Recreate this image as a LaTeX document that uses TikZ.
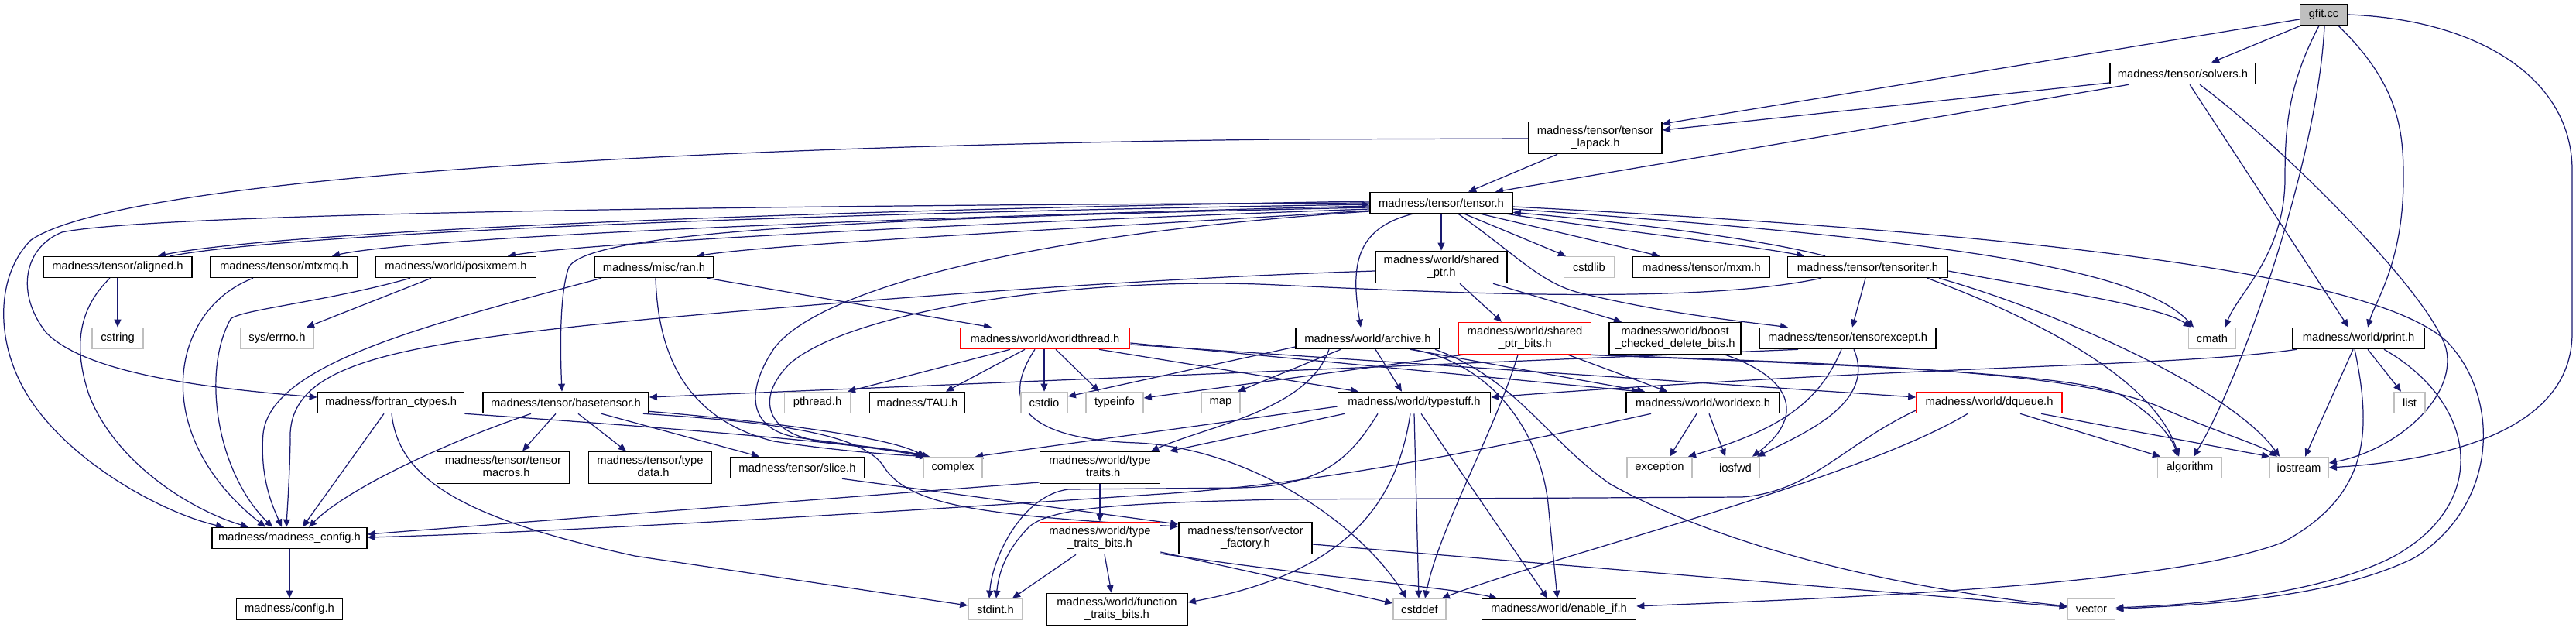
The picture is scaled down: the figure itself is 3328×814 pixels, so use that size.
\documentclass[tikz,border=0pt]{standalone}
\usepackage{fontspec}
\setmainfont{Liberation Sans}
\usetikzlibrary{arrows.meta}
\pgfdeclarelayer{bg}
\pgfdeclarelayer{paper}
\pgfsetlayers{paper,bg,main}
\definecolor{edgec}{HTML}{191970}
\definecolor{grayc}{HTML}{BFBFBF}
\tikzset{
  nbox/.style={draw=black, fill=white, line width=0.45pt, inner sep=0pt, minimum height=0.27cm, font=\fontsize{4.2pt}{4.55pt}\selectfont, align=center},
  gbox/.style={nbox, draw=grayc},
  rbox/.style={nbox, draw=red},
  tall/.style={minimum height=0.41cm},
  lnk/.style={draw=edgec, line width=0.35pt, -{Triangle[length=2.85pt,width=2.5pt]}}
}
\begin{document}
\begin{tikzpicture}[x=0.01cm,y=-0.01cm]
\begin{pgfonlayer}{paper}
\fill[white] (0,0) rectangle (3328,814);
\end{pgfonlayer}
\useasboundingbox (0,0) rectangle (3328,814);
% nodes
\node[nbox,fill=grayc,minimum width=0.61cm] (gfit) at (3002,19) {gfit.cc};
\node[nbox,minimum width=1.88cm] (solvers) at (2820,95) {madness/tensor/solvers.h};
\node[nbox,tall,minimum width=1.72cm] (lapack) at (2061,178) {madness/tensor/tensor\\\_lapack.h};
\node[nbox,minimum width=1.84cm] (tensor) at (1862,262) {madness/tensor/tensor.h};
\node[nbox,minimum width=1.92cm] (aligned) at (152,345) {madness/tensor/aligned.h};
\node[nbox,minimum width=1.90cm] (mtxmq) at (367,345) {madness/tensor/mtxmq.h};
\node[nbox,minimum width=2.07cm] (posixmem) at (589,345) {madness/world/posixmem.h};
\node[nbox,minimum width=1.53cm] (ran) at (845,345) {madness/misc/ran.h};
\node[nbox,tall,minimum width=1.70cm] (sharedptr) at (1862,345) {madness/world/shared\\\_ptr.h};
\node[gbox,minimum width=0.65cm] (cstdlib) at (2053,345) {cstdlib};
\node[nbox,minimum width=1.77cm] (mxm) at (2198,345) {madness/tensor/mxm.h};
\node[nbox,minimum width=2.07cm] (tensoriter) at (2413,345) {madness/tensor/tensoriter.h};
\node[gbox,minimum width=0.66cm] (cstring) at (152,437) {cstring};
\node[gbox,minimum width=0.95cm] (errno) at (358,437) {sys/errno.h};
\node[rbox,minimum width=2.19cm] (worldthread) at (1350,437) {madness/world/worldthread.h};
\node[nbox,minimum width=1.86cm] (archive) at (1767,437) {madness/world/archive.h};
\node[rbox,tall,minimum width=1.71cm] (spbits) at (1970,437) {madness/world/shared\\\_ptr\_bits.h};
\node[nbox,tall,minimum width=1.70cm] (boost) at (2164,437) {madness/world/boost\\\_checked\_delete\_bits.h};
\node[nbox,minimum width=2.28cm] (tensorexcept) at (2387,437) {madness/tensor/tensorexcept.h};
\node[gbox,minimum width=0.61cm] (cmath) at (2858,437) {cmath};
\node[nbox,minimum width=1.71cm] (print) at (3047,437) {madness/world/print.h};
\node[nbox,minimum width=1.89cm] (fortran) at (505,520) {madness/fortran\_ctypes.h};
\node[nbox,minimum width=2.14cm] (basetensor) at (731,520) {madness/tensor/basetensor.h};
\node[gbox,minimum width=0.85cm] (pthread) at (1056,520) {pthread.h};
\node[nbox,minimum width=1.23cm] (tau) at (1185,520) {madness/TAU.h};
\node[gbox,minimum width=0.60cm] (cstdio) at (1349,520) {cstdio};
\node[gbox,minimum width=0.74cm] (typeinfo) at (1440,520) {typeinfo};
\node[gbox,minimum width=0.50cm] (map) at (1577,520) {map};
\node[nbox,minimum width=1.97cm] (typestuff) at (1827,520) {madness/world/typestuff.h};
\node[nbox,minimum width=1.98cm] (worldexc) at (2200,520) {madness/world/worldexc.h};
\node[rbox,minimum width=1.88cm] (dqueue) at (2570,520) {madness/world/dqueue.h};
\node[gbox,minimum width=0.40cm] (list) at (3113,520) {list};
\node[nbox,tall,minimum width=1.71cm] (macros) at (650,604) {madness/tensor/tensor\\\_macros.h};
\node[nbox,tall,minimum width=1.59cm] (typedata) at (840,604) {madness/tensor/type\\\_data.h};
\node[nbox,minimum width=1.73cm] (slice) at (1030,604) {madness/tensor/slice.h};
\node[gbox,minimum width=0.76cm] (complex) at (1231,604) {complex};
\node[nbox,tall,minimum width=1.55cm] (typetraits) at (1421,604) {madness/world/type\\\_traits.h};
\node[gbox,minimum width=0.84cm] (exception) at (2144,604) {exception};
\node[gbox,minimum width=0.63cm] (iosfwd) at (2242,604) {iosfwd};
\node[gbox,minimum width=0.83cm] (algorithm) at (2829,604) {algorithm};
\node[gbox,minimum width=0.76cm] (iostream) at (2970,604) {iostream};
\node[nbox,minimum width=2.00cm] (mconfig) at (374,695) {madness/madness\_config.h};
\node[rbox,tall,minimum width=1.55cm] (ttbits) at (1421,695) {madness/world/type\\\_traits\_bits.h};
\node[nbox,tall,minimum width=1.72cm] (vfactory) at (1609,695) {madness/tensor/vector\\\_factory.h};
\node[nbox,minimum width=1.37cm] (config) at (374,787) {madness/config.h};
\node[gbox,minimum width=0.70cm] (stdint) at (1286,787) {stdint.h};
\node[nbox,tall,minimum width=1.82cm] (ftbits) at (1443,787) {madness/world/function\\\_traits\_bits.h};
\node[gbox,minimum width=0.68cm] (cstddef) at (1834,787) {cstddef};
\node[nbox,minimum width=1.99cm] (enableif) at (2014,787) {madness/world/enable\_if.h};
\node[gbox,minimum width=0.61cm] (vector) at (2702,787) {vector};
% edges
\begin{pgfonlayer}{bg}
% gfit
\draw[lnk] ([shift={(-30,0)}]gfit.south) -- ([shift={(37,0)}]solvers.north);
\draw[lnk] ([shift={(0,6)}]gfit.west) -- ([shift={(0,-18)}]lapack.east);
\draw[lnk] ([shift={(-6,0)}]gfit.south) .. controls (2955,110) and (2952,170) .. (2952,230) .. controls (2952,330) and (2890,380) .. ([shift={(17,0)}]cmath.north);
\draw[lnk] ([shift={(1,0)}]gfit.south) .. controls (2995,200) and (2900,480) .. ([shift={(5,0)}]algorithm.north);
\draw[lnk] ([shift={(19,0)}]gfit.south) .. controls (3100,110) and (3105,170) .. (3105,230) .. controls (3105,340) and (3068,390) .. ([shift={(12,0)}]print.north);
\draw[lnk] (gfit.east) .. controls (3200,25) and (3323,100) .. (3323,220) -- (3323,430) .. controls (3323,560) and (3150,595) .. (iostream.east);
% solvers
\draw[lnk] ([shift={(0,12)}]solvers.west) -- ([shift={(0,-10)}]lapack.east);
\draw[lnk] ([shift={(-70,0)}]solvers.south) -- ([shift={(70,0)}]tensor.north);
\draw[lnk] ([shift={(9,0)}]solvers.south) -- ([shift={(-13,0)}]print.north);
\draw[lnk] ([shift={(22,0)}]solvers.south) .. controls (2950,190) and (3140,380) .. (3160,450) .. controls (3175,510) and (3100,580) .. ([shift={(0,-6)}]iostream.east);
% lapack
\draw[lnk] ([shift={(-49,0)}]lapack.south) -- ([shift={(35,0)}]tensor.north);
\draw[lnk] ([shift={(0,1)}]lapack.west) -- (1650,180) .. controls (800,190) and (150,235) .. (40,310) .. controls (0,350) and (-5,420) .. (20,480) .. controls (60,580) and (200,660) .. ([shift={(-85,0)}]mconfig.north);
% tensor
\draw[lnk] ([shift={(0,-2)}]tensor.west) .. controls (1000,272) and (350,300) .. ([shift={(52,0)}]aligned.north);
\draw[lnk] ([shift={(68,0)}]aligned.north) .. controls (370,302) and (1000,276) .. ([shift={(0,2)}]tensor.west);
\draw[lnk] ([shift={(0,4)}]tensor.west) .. controls (1000,285) and (520,310) .. ([shift={(62,0)}]mtxmq.north);
\draw[lnk] ([shift={(0,8)}]tensor.west) .. controls (1200,290) and (750,315) .. ([shift={(67,0)}]posixmem.north);
\draw[lnk] ([shift={(0,10)}]tensor.west) .. controls (1400,295) and (1000,315) .. ([shift={(55,0)}]ran.north);
\draw[lnk] ([shift={(0,6)}]tensor.west) .. controls (1100,282) and (760,300) .. (735,345) .. controls (722,380) and (724,460) .. ([shift={(-5,0)}]basetensor.north);
\draw[lnk] (tensor.west) .. controls (1000,265) and (200,275) .. (80,300) .. controls (30,320) and (20,380) .. (60,430) .. controls (110,480) and (250,500) .. ([shift={(0,-7)}]fortran.west);
\draw[lnk] ([shift={(-37,0)}]tensor.south) .. controls (1750,295) and (1745,345) .. ([shift={(-9,0)}]archive.north);
\draw[lnk] (tensor.south) -- (sharedptr.north);
\draw[lnk] ([shift={(30,0)}]tensor.south) -- ([shift={(-30,0)}]cstdlib.north);
\draw[lnk] ([shift={(51,0)}]tensor.south) -- ([shift={(-54,0)}]mxm.north);
\draw[lnk] ([shift={(-8,0)}]tensor.south east) .. controls (2100,300) and (2250,315) .. ([shift={(-82,0)}]tensoriter.north);
\draw[lnk] ([shift={(-55,0)}]tensoriter.north) .. controls (2270,308) and (2110,288) .. ([shift={(0,-2)}]tensor.south east);
\draw[lnk] ([shift={(0,5)}]tensor.east) .. controls (2600,300) and (3060,350) .. (3160,440) .. controls (3230,510) and (3230,650) .. (3120,720) .. controls (3000,780) and (2800,782) .. (vector.east);
\draw[lnk] ([shift={(0,8)}]tensor.east) .. controls (2450,305) and (2760,340) .. ([shift={(-24,0)}]cmath.north);
\draw[lnk] ([shift={(0,11)}]tensor.west) .. controls (1350,300) and (1060,370) .. (1000,450) .. controls (960,510) and (970,555) .. (1030,565) .. controls (1100,575) and (1170,582) .. ([shift={(-35,0)}]complex.north);
\draw[lnk] ([shift={(22,0)}]tensor.south) .. controls (1960,330) and (1990,365) .. (2040,378) .. controls (2150,405) and (2250,415) .. ([shift={(-77,0)}]tensorexcept.north);
% tensoriter
\draw[lnk] ([shift={(-3,0)}]tensoriter.south) -- ([shift={(6,0)}]tensorexcept.north);
\draw[lnk] ([shift={(0,5)}]tensoriter.east) .. controls (2650,375) and (2790,395) .. ([shift={(-27,0)}]cmath.north);
\draw[lnk] ([shift={(77,0)}]tensoriter.south) .. controls (2600,400) and (2780,480) .. ([shift={(-14,0)}]algorithm.north);
\draw[lnk] ([shift={(92,0)}]tensoriter.south) .. controls (2650,400) and (2880,500) .. ([shift={(-25,0)}]iostream.north);
\draw[lnk] ([shift={(-60,0)}]tensoriter.south) .. controls (2200,392) and (1900,380) .. (1650,368) .. controls (1400,356) and (1100,400) .. (1020,470) .. controls (975,515) and (990,560) .. (1060,570) .. controls (1120,578) and (1170,583) .. ([shift={(-30,0)}]complex.north);
% aligned, mtxmq, posixmem
\draw[lnk] ([shift={(-10,0)}]aligned.south) .. controls (100,400) and (95,450) .. (115,510) .. controls (150,600) and (250,660) .. ([shift={(-53,0)}]mconfig.north);
\draw[lnk] (aligned.south) -- (cstring.north);
\draw[lnk] ([shift={(-40,0)}]mtxmq.south) .. controls (220,400) and (190,560) .. ([shift={(-31,0)}]mconfig.north);
\draw[lnk] ([shift={(-59,0)}]posixmem.south) .. controls (420,390) and (310,400) .. (298,412) .. controls (260,480) and (280,610) .. ([shift={(-22,0)}]mconfig.north);
\draw[lnk] ([shift={(-32,0)}]posixmem.south) -- ([shift={(38,0)}]errno.north);
% ran
\draw[lnk] ([shift={(-68,0)}]ran.south) .. controls (550,420) and (350,470) .. (340,560) .. controls (335,620) and (355,660) .. ([shift={(-10,0)}]mconfig.north);
\draw[lnk] ([shift={(2,0)}]ran.south) .. controls (850,450) and (880,540) .. (1000,570) .. controls (1100,585) and (1170,588) .. ([shift={(-33,0)}]complex.north);
\draw[lnk] ([shift={(69,0)}]ran.south) -- ([shift={(-69,0)}]worldthread.north);
% shared_ptr
\draw[lnk] ([shift={(0,5)}]sharedptr.west) .. controls (1400,362) and (1000,398) .. (840,412) .. controls (500,445) and (370,470) .. (375,570) .. controls (374,620) and (371,660) .. ([shift={(-4,0)}]mconfig.north);
\draw[lnk] ([shift={(24,0)}]sharedptr.south) -- ([shift={(-30,0)}]spbits.north);
\draw[lnk] ([shift={(67,0)}]sharedptr.south) -- ([shift={(-69,0)}]boost.north);
% fortran
\draw[lnk] ([shift={(-9,0)}]fortran.south) -- ([shift={(17,0)}]mconfig.north);
\draw[lnk] ([shift={(1,0)}]fortran.south) .. controls (515,620) and (600,670) .. (820,718) -- ([shift={(0,-5)}]stdint.west);
\draw[lnk] (fortran.south east) .. controls (800,548) and (1100,570) .. ([shift={(-38,0)}]complex.north);
% basetensor
\draw[lnk] ([shift={(-45,0)}]basetensor.south) .. controls (580,570) and (450,630) .. ([shift={(25,0)}]mconfig.north);
\draw[lnk] ([shift={(-13,0)}]basetensor.south) -- ([shift={(25,0)}]macros.north);
\draw[lnk] ([shift={(16,0)}]basetensor.south) -- ([shift={(-31,0)}]typedata.north);
\draw[lnk] ([shift={(46,0)}]basetensor.south) -- ([shift={(-49,0)}]slice.north);
\draw[lnk] ([shift={(0,-3)}]basetensor.south east) .. controls (1000,545) and (1150,565) .. ([shift={(-36,0)}]complex.north);
\draw[lnk] ([shift={(-8,0)}]basetensor.south east) .. controls (1000,545) and (1110,560) .. (1140,600) .. controls (1170,650) and (1250,665) .. ([shift={(0,-15)}]vfactory.west);
\draw[lnk] ([shift={(58,0)}]slice.south) -- ([shift={(0,-18)}]vfactory.west);
% worldthread
\draw[lnk] ([shift={(-45,0)}]worldthread.south) -- ([shift={(39,0)}]pthread.north);
\draw[lnk] ([shift={(-26,0)}]worldthread.south) -- ([shift={(37,0)}]tau.north);
\draw[lnk] ([shift={(-1,0)}]worldthread.south) -- (cstdio.north);
\draw[lnk] ([shift={(14,0)}]worldthread.south) -- ([shift={(-20,0)}]typeinfo.north);
\draw[lnk] ([shift={(-13,0)}]worldthread.south) .. controls (1285,530) and (1340,568) .. (1470,572) .. controls (1620,580) and (1760,680) .. ([shift={(-17,0)}]cstddef.north);
\draw[lnk] ([shift={(70,0)}]worldthread.south) -- ([shift={(-72,0)}]typestuff.north);
\draw[lnk] ([shift={(0,6)}]worldthread.east) -- ([shift={(-82,0)}]worldexc.north);
\draw[lnk] ([shift={(0,8)}]worldthread.east) -- ([shift={(0,-7)}]dqueue.west);
% archive
\draw[lnk] ([shift={(0,11)}]archive.west) -- ([shift={(0,-8)}]cstdio.east);
\draw[lnk] ([shift={(-35,0)}]archive.south) -- ([shift={(22,0)}]map.north);
\draw[lnk] ([shift={(-50,0)}]archive.south) .. controls (1690,530) and (1560,550) .. ([shift={(66,0)}]typetraits.north);
\draw[lnk] ([shift={(10,0)}]archive.south) -- ([shift={(-16,0)}]typestuff.north);
\draw[lnk] ([shift={(55,0)}]archive.south) -- ([shift={(-75,0)}]worldexc.north);
\draw[lnk] ([shift={(58,0)}]archive.south) .. controls (1930,470) and (1990,560) .. (2000,650) -- ([shift={(-2,0)}]enableif.north);
\draw[lnk] ([shift={(87,0)}]archive.south) .. controls (1960,490) and (2000,570) .. (2080,625) .. controls (2250,720) and (2500,765) .. ([shift={(0,-4)}]vector.west);
% shared_ptr_bits
\draw[lnk] ([shift={(-9,0)}]spbits.south) .. controls (1930,560) and (1860,680) .. ([shift={(7,0)}]cstddef.north);
\draw[lnk] ([shift={(56,0)}]spbits.south) -- ([shift={(-46,0)}]worldexc.north);
\draw[lnk] ([shift={(-80,0)}]spbits.south) -- ([shift={(0,-6)}]typeinfo.east);
\draw[lnk] (spbits.south east) .. controls (2400,470) and (2700,480) .. (2800,530) .. controls (2870,560) and (2920,575) .. ([shift={(-28,0)}]iostream.north);
\draw[lnk] ([shift={(-4,0)}]spbits.south east) .. controls (2400,472) and (2680,482) .. (2740,510) .. controls (2790,540) and (2808,570) .. ([shift={(-16,0)}]algorithm.north);
% boost
\draw[lnk] ([shift={(65,0)}]boost.south) .. controls (2320,490) and (2330,540) .. ([shift={(22,0)}]iosfwd.north);
% tensorexcept
\draw[lnk] ([shift={(-8,0)}]tensorexcept.south) .. controls (2350,520) and (2300,555) .. ([shift={(37,0)}]exception.north);
\draw[lnk] ([shift={(8,0)}]tensorexcept.south) .. controls (2425,520) and (2330,560) .. ([shift={(28,0)}]iosfwd.north);
\draw[lnk] ([shift={(-64,0)}]tensorexcept.south) -- ([shift={(0,-7)}]basetensor.east);
% typestuff
\draw[lnk] ([shift={(-90,0)}]typestuff.south) -- ([shift={(90,0)}]typetraits.north);
\draw[lnk] ([shift={(0,5)}]typestuff.west) -- ([shift={(29,0)}]complex.north);
\draw[lnk] (typestuff.south) -- ([shift={(-1,0)}]cstddef.north);
\draw[lnk] ([shift={(9,0)}]typestuff.south) -- ([shift={(-15,0)}]enableif.north);
\draw[lnk] ([shift={(-5,0)}]typestuff.south) .. controls (1805,650) and (1740,740) .. ([shift={(0,-9)}]ftbits.east);
\draw[lnk] ([shift={(-47,0)}]typestuff.south) .. controls (1740,600) and (1700,628) .. (1600,630) -- (1380,632) .. controls (1320,640) and (1282,720) .. ([shift={(-8,0)}]stdint.north);
% type_traits
\draw[lnk] (typetraits.south) -- (ttbits.north);
\draw[lnk] ([shift={(0,19)}]typetraits.west) -- ([shift={(0,-5)}]mconfig.east);
% type_traits_bits
\draw[lnk] ([shift={(-31,0)}]ttbits.south) -- ([shift={(22,0)}]stdint.north);
\draw[lnk] ([shift={(6,0)}]ttbits.south) -- ([shift={(-7,0)}]ftbits.north);
\draw[lnk] ([shift={(0,18)}]ttbits.east) -- ([shift={(0,-8)}]cstddef.west);
\draw[lnk] ([shift={(0,20)}]ttbits.east) .. controls (1700,745) and (1880,760) .. ([shift={(-80,0)}]enableif.north);
% vector_factory
\draw[lnk] ([shift={(0,8)}]vfactory.east) -- ([shift={(0,-3)}]vector.west);
% dqueue
\draw[lnk] ([shift={(40,0)}]dqueue.south) -- ([shift={(-38,0)}]algorithm.north);
\draw[lnk] ([shift={(67,0)}]dqueue.south) -- ([shift={(-38,0)}]iostream.north);
\draw[lnk] ([shift={(-28,0)}]dqueue.south) .. controls (2400,620) and (2000,720) .. ([shift={(-6,0)}]cstddef.north east);
\draw[lnk] ([shift={(0,10)}]dqueue.west) .. controls (2380,575) and (2340,635) .. (2250,642) -- (1650,645) .. controls (1450,650) and (1360,655) .. (1330,680) .. controls (1300,710) and (1290,740) .. ([shift={(1,0)}]stdint.north);
% worldexc
\draw[lnk] ([shift={(-8,0)}]worldexc.south) -- ([shift={(13,0)}]exception.north);
\draw[lnk] ([shift={(8,0)}]worldexc.south) -- ([shift={(-13,0)}]iosfwd.north);
\draw[lnk] ([shift={(-67,0)}]worldexc.south) .. controls (1900,585) and (1700,625) .. (1500,638) .. controls (1100,665) and (700,688) .. ([shift={(0,-1)}]mconfig.east);
% print
\draw[lnk] ([shift={(-80,0)}]print.south) .. controls (2800,475) and (2500,470) .. ([shift={(0,-7)}]typestuff.east);
\draw[lnk] ([shift={(-7,0)}]print.south) -- ([shift={(8,0)}]iostream.north);
\draw[lnk] ([shift={(12,0)}]print.south) -- ([shift={(-11,0)}]list.north);
\draw[lnk] ([shift={(-5,0)}]print.south) .. controls (3065,560) and (3060,640) .. (2950,700) .. controls (2800,760) and (2300,775) .. ([shift={(0,-4)}]enableif.east);
\draw[lnk] ([shift={(33,0)}]print.south) .. controls (3200,520) and (3220,650) .. (3090,720) .. controls (2980,775) and (2800,782) .. ([shift={(0,-2)}]vector.east);
% madness_config
\draw[lnk] (mconfig.south) -- (config.north);
\end{pgfonlayer}
\end{tikzpicture}
\end{document}
